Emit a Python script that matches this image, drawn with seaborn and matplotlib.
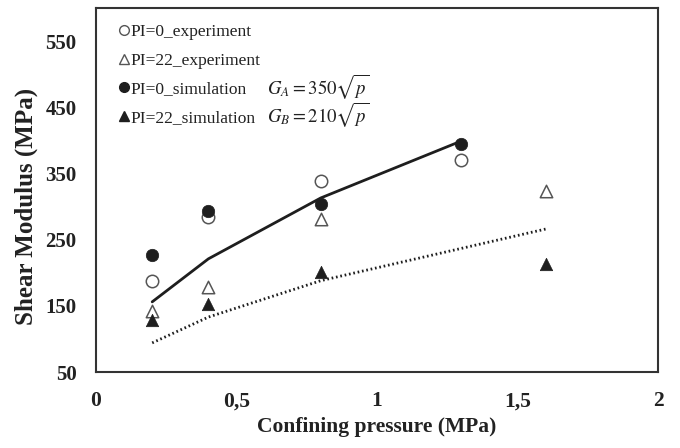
import matplotlib
matplotlib.use("Agg")
import matplotlib.pyplot as plt
from matplotlib.lines import Line2D
import seaborn as sns
import pandas as pd

# ---- data ----
p_exp0 = [0.2, 0.4, 0.8, 1.3]
g_exp0 = [188, 284, 339, 371]          # PI=0 experiment (open circles)
p_exp22 = [0.2, 0.4, 0.8, 1.6]
g_exp22 = [142, 179, 281, 324]         # PI=22 experiment (open triangles)
p_sim0 = [0.2, 0.4, 0.8, 1.3]
g_sim0 = [227, 294, 304, 395]          # PI=0 simulation (filled circles)
p_sim22 = [0.2, 0.4, 0.8, 1.6]
g_sim22 = [128, 152, 201, 213]         # PI=22 simulation (filled triangles)

p_fitA = [0.2, 0.4, 0.8, 1.3]
g_fitA = [156, 221, 313, 399]          # G_A = 350 sqrt(p)
p_fitB = [0.2, 0.4, 0.8, 1.6]
g_fitB = [94, 133, 188, 266]           # G_B = 210 sqrt(p)

x_ticks = [0, 0.5, 1, 1.5, 2]
x_ticklabels = ["0", "0,5", "1", "1,5", "2"]
y_ticks = [50, 150, 250, 350, 450, 550]

sns.set_theme(style="white")
plt.rcParams["font.family"] = ["Liberation Serif", "DejaVu Serif"]
plt.rcParams["mathtext.fontset"] = "stix"

fig = plt.figure(figsize=(6.8, 4.48), dpi=100)
ax = fig.add_axes([96 / 680, 76 / 448, 562 / 680, 364 / 448])

dark = "#1e1e1e"
grey = "#555555"

fitA = pd.DataFrame({"p": p_fitA, "G": g_fitA})
fitB = pd.DataFrame({"p": p_fitB, "G": g_fitB})
sns.lineplot(data=fitA, x="p", y="G", ax=ax, color=dark, lw=2.0, sort=True)
sns.lineplot(data=fitB, x="p", y="G", ax=ax, color=dark, lw=2.0,
             linestyle=(0, (0.6, 1.0)))

ms = 80
sns.scatterplot(x=p_exp0, y=g_exp0, ax=ax, marker="o", s=ms,
                facecolor="white", edgecolor=grey, linewidth=1.1, zorder=3)
sns.scatterplot(x=p_exp22, y=g_exp22, ax=ax, marker="^", s=ms,
                facecolor="white", edgecolor=grey, linewidth=1.1, zorder=3)
sns.scatterplot(x=p_sim0, y=g_sim0, ax=ax, marker="o", s=ms,
                color=dark, edgecolor=dark, linewidth=0.5, zorder=4)
sns.scatterplot(x=p_sim22, y=g_sim22, ax=ax, marker="^", s=ms,
                color=dark, edgecolor=dark, linewidth=0.5, zorder=4)

ax.set_xlim(0, 2)
ax.set_ylim(50, 600)
ax.set_xticks(x_ticks)
ax.set_xticklabels(x_ticklabels)
ax.set_yticks(y_ticks)
ax.tick_params(direction="in", length=5, width=1.5, colors=dark)
ax.tick_params(axis="x", labelsize=15.5, pad=14)
ax.tick_params(axis="y", labelsize=15, pad=14)
for lab in ax.get_xticklabels() + ax.get_yticklabels():
    lab.set_fontweight("bold")
    lab.set_color("#222222")
for s in ax.spines.values():
    s.set_linewidth(1.5)
    s.set_color("#333333")

ax.set_xlabel("Confining pressure (MPa)", fontsize=15.5, fontweight="bold",
              color="#222222", labelpad=4)
ax.set_ylabel("Shear Modulus (MPa)", fontsize=18, fontweight="bold",
              color="#222222")
ax.yaxis.set_label_coords(-0.103, 0.455)

handles = [
    Line2D([], [], marker="o", ls="", ms=7, mfc="white", mec=grey, mew=1.0),
    Line2D([], [], marker="^", ls="", ms=7, mfc="white", mec=grey, mew=1.0),
    Line2D([], [], marker="o", ls="", ms=7, mfc=dark, mec=dark),
    Line2D([], [], marker="^", ls="", ms=7, mfc=dark, mec=dark),
]
labels = ["PI=0_experiment", "PI=22_experiment", "PI=0_simulation",
          "PI=22_simulation"]
leg = ax.legend(handles, labels, loc="upper left", frameon=False,
                bbox_to_anchor=(0.022, 0.985), handlelength=0.6,
                handletextpad=0.05, labelspacing=0.72, fontsize=12.5,
                borderaxespad=0.2)
for t in leg.get_texts():
    t.set_color("#222222")

ax.text(0.305, 0.784, r"$G_A=350\sqrt{p}$", transform=ax.transAxes,
        fontsize=13.5, color="#222222", va="center")
ax.text(0.305, 0.707, r"$G_B=210\sqrt{p}$", transform=ax.transAxes,
        fontsize=13.5, color="#222222", va="center")

fig.savefig("out.png", dpi=100)
